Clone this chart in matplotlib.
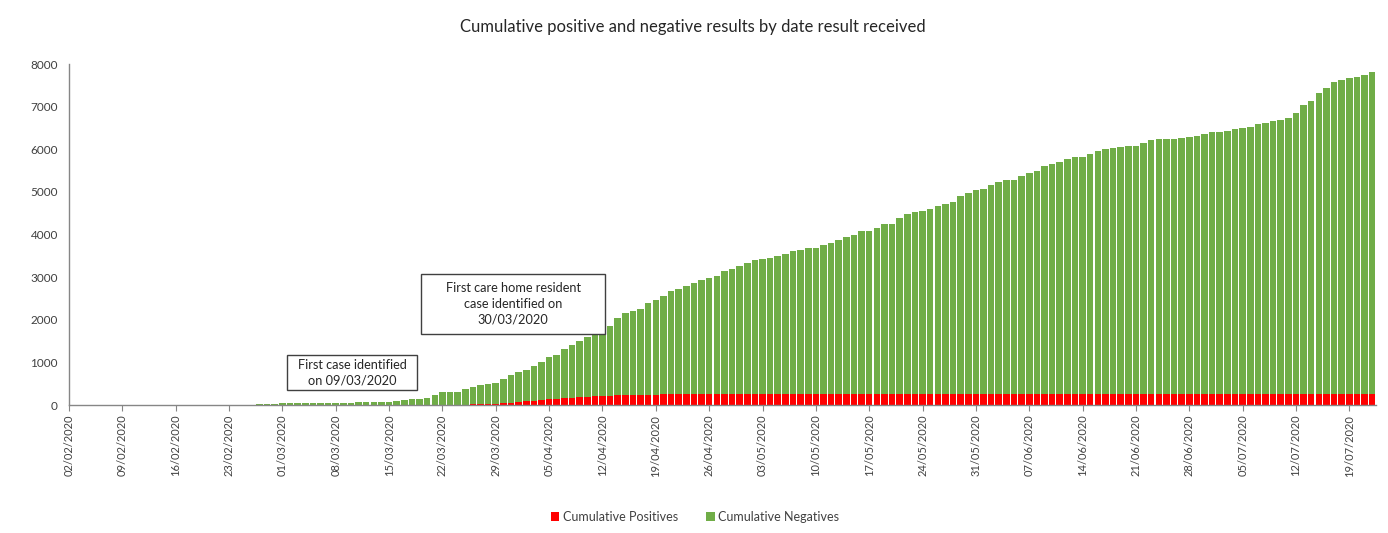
import matplotlib
matplotlib.use("Agg")
import matplotlib.pyplot as plt
import matplotlib.dates as mdates
from matplotlib.patches import Rectangle
import numpy as np
import pandas as pd

plt.rcParams['font.family'] = ['Lato', 'DejaVu Sans']

# ---- data ----
dates = pd.date_range("2020-02-27", "2020-07-22", freq="D")

totals = [
    23, 31, 31, 39, 39, 47, 47, 55, 55, 55, 55, 55, 55, 63, 70, 70, 70, 78, 86, 112, 130, 145, 168, 225, 295,
    313, 313, 384, 431, 478, 493, 517, 619, 705, 775, 814, 924, 1018, 1120, 1167, 1315, 1402, 1511, 1590, 1652,
    1801, 1864, 2036, 2169, 2200,
    2250, 2387, 2465, 2567, 2685, 2732, 2802, 2865, 2935, 2982, 3029, 3139, 3193, 3256, 3334, 3405, 3436, 3443,
    3490, 3538, 3616, 3647, 3678, 3694, 3757, 3796, 3867, 3937, 3984, 4078, 4093, 4164,
    4244, 4244, 4377, 4471, 4518, 4557, 4588, 4659, 4706, 4768,
    4909, 4980, 5043, 5058, 5168, 5238, 5277, 5277, 5379, 5442,
    5489, 5598, 5645, 5700, 5763, 5818, 5818, 5888, 5959, 6006,
    6021, 6060, 6084, 6084, 6139, 6209, 6233, 6248, 6248, 6272,
    6287, 6319, 6358, 6413, 6413, 6436, 6475, 6499, 6530, 6593,
    6616, 6671, 6687, 6734, 6859, 7047, 7141, 7321, 7439, 7579,
    7626, 7666, 7689, 7744, 7806,
]

positives = ([0] * 27
             + [10, 15, 20, 25, 30, 40, 55, 70, 85, 100, 115, 130, 140, 160, 175, 190, 198, 205, 212, 220,
                228, 233, 237, 240, 243, 245, 247, 249, 250, 252]
             + [253] * 5 + [255] * 10 + [257] * 15 + [259] * 20 + [260] * 40)

negatives = list(np.array(totals) - np.array(positives))

series_labels = ["Cumulative Positives", "Cumulative Negatives"]
colors = ["#FF0000", "#70AD47"]
title = "Cumulative positive and negative results by date result received"
note1 = "First case identified\non 09/03/2020"
note2 = "First care home resident\ncase identified on\n30/03/2020"

# ---- figure ----
W, H = 1388, 533
fig = plt.figure(figsize=(W / 100, H / 100), dpi=100)
fig.patch.set_facecolor("white")

x0, x1 = 69, 1376
y0, y1 = 405, 64
ax = fig.add_axes([x0 / W, 1 - y0 / H, (x1 - x0) / W, (y0 - y1) / H])

ax.bar(dates, positives, width=0.86, color=colors[0], label=series_labels[0], linewidth=0)
ax.bar(dates, negatives, width=0.86, bottom=positives, color=colors[1], label=series_labels[1], linewidth=0)

ax.set_xlim(pd.Timestamp("2020-02-02"), pd.Timestamp("2020-07-22") + pd.Timedelta(hours=12))
ax.set_ylim(0, 8000)
ax.set_yticks(range(0, 8001, 1000))

ticks = pd.date_range("2020-02-02", "2020-07-19", freq="7D")
ax.set_xticks(ticks)
ax.set_xticklabels([d.strftime("%d/%m/%Y") for d in ticks], rotation=90, fontsize=8, color="#404040")
ax.tick_params(axis="x", length=4, width=0.8, color="#868686", pad=3)
ax.tick_params(axis="y", length=0, labelsize=8.5, labelcolor="#404040", pad=8)

for s in ["top", "right"]:
    ax.spines[s].set_visible(False)
for s in ["left", "bottom"]:
    ax.spines[s].set_color("#868686")
    ax.spines[s].set_linewidth(1.0)

fig.text(693 / W, 1 - 27 / H, title, ha="center", va="center", fontsize=12, color="#262626")

# annotation boxes
def box(xa, ya, xb, yb, txt):
    fig.patches.append(Rectangle((xa / W, 1 - yb / H), (xb - xa) / W, (yb - ya) / H,
                                 transform=fig.transFigure, facecolor="white",
                                 edgecolor="#404040", linewidth=1.0, zorder=5))
    fig.text((xa + xb) / 2 / W, 1 - (ya + yb) / 2 / H, txt, ha="center", va="center",
             fontsize=9.2, color="#262626", linespacing=1.35, zorder=6)

box(287, 355, 417, 390, note1)
box(421, 274, 605, 334, note2)

leg = fig.legend(loc="center", bbox_to_anchor=(695 / W, 1 - 517 / H), ncol=2, frameon=False,
                 fontsize=9, handlelength=0.7, handleheight=0.7, handletextpad=0.3, columnspacing=2.2)
for t in leg.get_texts():
    t.set_color("#404040")

fig.savefig("out.png", dpi=100, facecolor="white")
